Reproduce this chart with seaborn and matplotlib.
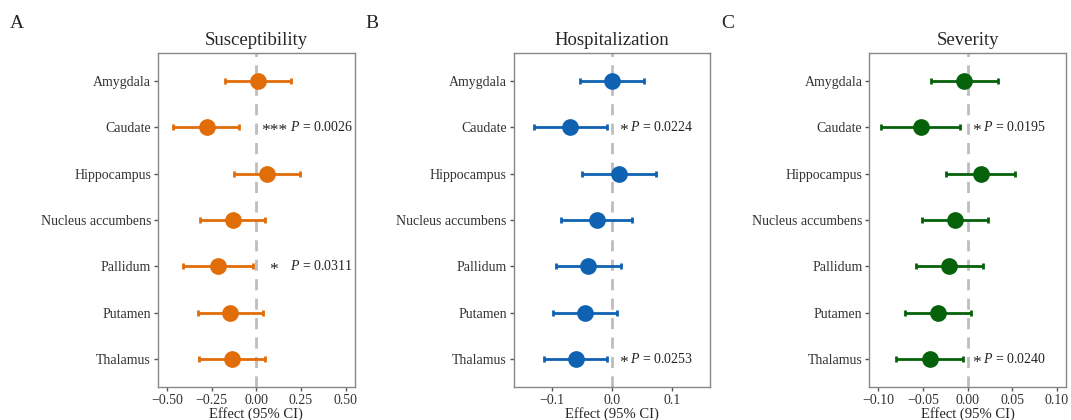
import numpy as np
import pandas as pd
import matplotlib
matplotlib.use('Agg')
import matplotlib.pyplot as plt
import seaborn as sns

regions = ['Amygdala', 'Caudate', 'Hippocampus', 'Nucleus accumbens',
           'Pallidum', 'Putamen', 'Thalamus']

# Susceptibility
sus_est = [0.009, -0.277, 0.060, -0.130, -0.214, -0.145, -0.134]
sus_lo = [-0.173, -0.464, -0.123, -0.315, -0.411, -0.328, -0.318]
sus_hi = [0.194, -0.097, 0.246, 0.050, -0.017, 0.039, 0.050]

# Hospitalization
hos_est = [0.0006, -0.070, 0.0123, -0.0256, -0.040, -0.0446, -0.060]
hos_lo = [-0.0535, -0.130, -0.050, -0.0847, -0.094, -0.0975, -0.1136]
hos_hi = [0.0535, -0.0089, 0.074, 0.0329, 0.015, 0.0089, -0.0078]

# Severity
sev_est = [-0.0037, -0.0523, 0.015, -0.0142, -0.0206, -0.0329, -0.0422]
sev_lo = [-0.0407, -0.0968, -0.0239, -0.0516, -0.0583, -0.0703, -0.0796]
sev_hi = [0.034, -0.0082, 0.0527, 0.0228, 0.0168, 0.0041, -0.0056]

# annotations: region -> (stars, p value)
sus_notes = {'Caudate': ('***', '0.0026'), 'Pallidum': ('*', '0.0311')}
hos_notes = {'Caudate': ('*', '0.0224'), 'Thalamus': ('*', '0.0253')}
sev_notes = {'Caudate': ('*', '0.0195'), 'Thalamus': ('*', '0.0240')}

sns.set_style('white')
plt.rcParams['font.family'] = ['Liberation Serif', 'DejaVu Serif']
plt.rcParams['mathtext.fontset'] = 'custom'
plt.rcParams['mathtext.rm'] = 'Liberation Serif'
plt.rcParams['mathtext.it'] = 'Liberation Serif:italic'

panels = [
    ('A', 'Susceptibility', sus_est, sus_lo, sus_hi, sus_notes, '#E06D08',
     0.55, [-0.5, -0.25, 0, 0.25, 0.5], '{:.2f}', 0.099, 0.188, 0.1475),
    ('B', 'Hospitalization', hos_est, hos_lo, hos_hi, hos_notes, '#0F62B2',
     0.164, [-0.1, 0, 0.1], '{:.1f}', 0.0195, 0.030, 0.4796),
    ('C', 'Severity', sev_est, sev_lo, sev_hi, sev_notes, '#05620A',
     0.11, [-0.1, -0.05, 0, 0.05, 0.1], '{:.2f}', 0.0098, 0.0173, 0.8117),
]

fig = plt.figure(figsize=(10.71, 4.2), dpi=100)

for letter, title, est, lo, hi, notes, color, lim, ticks, fmt, sx, px, left in panels:
    ax = fig.add_axes([left, 0.0786, 0.1835, 0.795])
    df = pd.DataFrame({'region': regions, 'est': est, 'lo': lo, 'hi': hi})
    ypos = np.arange(len(regions))

    ax.axvline(0, color='#BDBDBD', lw=2, ls=(0, (4, 3)), zorder=1)
    ax.errorbar(df['est'], ypos,
                xerr=[df['est'] - df['lo'], df['hi'] - df['est']],
                fmt='none', ecolor=color, elinewidth=2, capsize=2.5,
                capthick=2, zorder=2)
    sns.pointplot(data=df, x='est', y='region', order=regions, orient='h',
                  color=color, linestyle='none', errorbar=None, markersize=10,
                  ax=ax, zorder=3)

    for reg, (stars, p) in notes.items():
        i = regions.index(reg)
        ax.text(sx, i + 0.17, stars, ha='center', va='baseline',
                fontsize=12.5, color='#222222')
        ax.text(px, i, r'$\it{P}$ = ' + p, ha='left', va='center',
                fontsize=10, color='#222222')

    ax.set_xlim(-lim, lim)
    ax.set_ylim(len(regions) - 0.4, -0.6)
    ax.set_xticks(ticks)
    ax.set_xticklabels([fmt.format(t).replace('-', '\u2212') for t in ticks])
    ax.set_xlabel('Effect (95% CI)', fontsize=10.5, labelpad=0)
    ax.set_ylabel('')
    ax.set_title(title, fontsize=13.5, pad=6)
    ax.tick_params(axis='both', labelsize=10, length=3, width=1,
                   color='#555555', labelcolor='#333333', pad=2,
                   left=True, bottom=True)
    for s in ax.spines.values():
        s.set_color('#888888')
        s.set_linewidth(1)
    fig.text(left - 0.138, 0.945, letter, fontsize=14, va='center')

fig.savefig('out.png', dpi=100)
